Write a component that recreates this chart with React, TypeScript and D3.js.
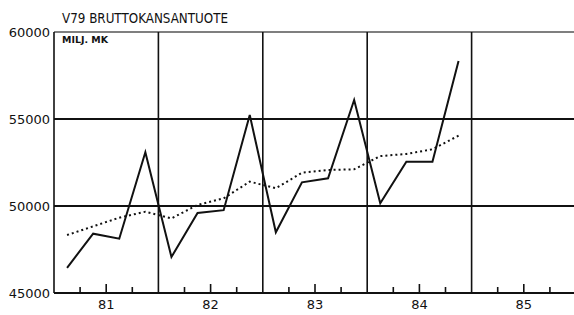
import * as d3 from 'd3'

// quarterly data, 1981 Q1 .. 1984 Q4 (milj. mk)
const years = [1981, 1982, 1983, 1984, 1985]
const gdp = [
  46450, 48410, 48120, 53090,
  47070, 49600, 49760, 55230,
  48490, 51360, 51590, 56090,
  50160, 52550, 52550, 58330
]
const trend = [
  48330, 48830, 49330, 49670,
  49290, 50060, 50440, 51400,
  51020, 51910, 52070, 52110,
  52870, 52990, 53260, 54040
]
const yTicks = [45000, 50000, 55000, 60000]

const width = 574
const height = 315
const margin = { top: 32, right: -2, bottom: 22, left: 54 }
const font = '"DejaVu Sans", sans-serif'

export default function App() {
  const x = d3.scaleLinear()
    .domain([1981, 1986])
    .range([margin.left, width - margin.right])
  const y = d3.scaleLinear()
    .domain([45000, 60000])
    .range([height - margin.bottom, margin.top])

  // quarter i -> centre of that quarter
  const qx = (i: number) => x(1981 + (i + 0.5) / 4)

  const line = d3.line<number>()
    .x((_, i) => qx(i))
    .y(d => y(d))

  const quarterTicks = years.flatMap(yr => [0.25, 0.5, 0.75].map(f => ({ v: yr + f, major: f === 0.5 })))
  const left = x(1981)
  const right = width
  const bottom = y(45000)
  const top = y(60000)

  return (
    <svg width={width} height={height} style={{ position: 'absolute', left: 0, top: 0, background: '#fff' }}>
      <text x={62} y={23} fontFamily={font} fontSize={14} textLength={166} lengthAdjust="spacingAndGlyphs" fill="#111">
        V79 BRUTTOKANSANTUOTE
      </text>

      {/* frame top */}
      <line x1={left} x2={right} y1={top} y2={top} stroke="#555" strokeWidth={1.6} />
      {/* horizontal grid */}
      {yTicks.filter(t => t > 45000 && t < 60000).map(t => (
        <line key={t} x1={left} x2={right} y1={y(t)} y2={y(t)} stroke="#111" strokeWidth={2} />
      ))}
      {/* year boundaries */}
      {years.slice(1).map(yr => (
        <line key={yr} x1={x(yr)} x2={x(yr)} y1={top} y2={bottom} stroke="#111" strokeWidth={1.6} />
      ))}
      <line x1={left} x2={left} y1={top} y2={bottom} stroke="#111" strokeWidth={1.6} />
      {/* x axis */}
      <line x1={left} x2={right} y1={bottom} y2={bottom} stroke="#111" strokeWidth={2} />
      {quarterTicks.map(t => (
        <line key={t.v} x1={x(t.v)} x2={x(t.v)} y1={bottom} y2={bottom - (t.major ? 9 : 6)} stroke="#111" strokeWidth={1.6} />
      ))}
      {years.map(yr => (
        <text key={yr} x={x(yr + 0.5)} y={bottom + 16} textAnchor="middle" fontFamily={font} fontSize={13} fill="#111">
          {String(yr).slice(2)}
        </text>
      ))}
      {yTicks.map(t => (
        <text key={t} x={50} y={y(t) + 5} textAnchor="end" fontFamily={font} fontSize={13} fill="#111">
          {t}
        </text>
      ))}

      <text x={62} y={43} fontFamily={font} fontSize={8} fontWeight="bold" textLength={46} lengthAdjust="spacingAndGlyphs" fill="#111">MILJ. MK</text>

      <path d={line(trend) ?? ''} fill="none" stroke="#111" strokeWidth={2} strokeDasharray="2,3" />
      <path d={line(gdp) ?? ''} fill="none" stroke="#111" strokeWidth={2} strokeLinejoin="miter" />
    </svg>
  )
}
